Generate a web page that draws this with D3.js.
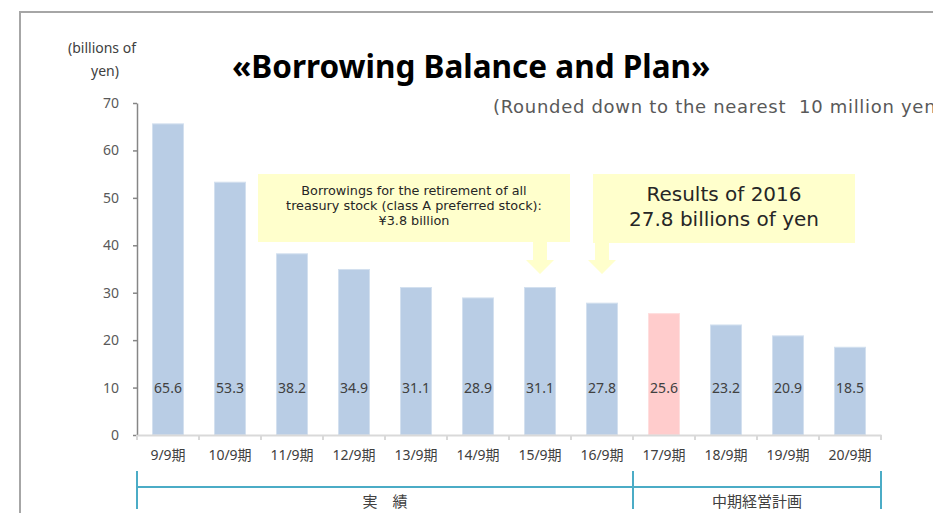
<!DOCTYPE html>
<html>
<head>
<meta charset="utf-8">
<script src="https://cdn.jsdelivr.net/npm/d3@7"></script>
<style>
  body { margin: 0; background: #fff; }
  svg { display: block; font-family: "Noto Sans", "Noto Sans CJK JP", sans-serif; }
</style>
</head>
<body>
<svg id="chart" width="933" height="513"></svg>
<script>
// Borrowing balance by fiscal period (billions of yen)
var periods = ["9/9期", "10/9期", "11/9期", "12/9期", "13/9期", "14/9期",
               "15/9期", "16/9期", "17/9期", "18/9期", "19/9期", "20/9期"];
var balances = [65.6, 53.3, 38.2, 34.9, 31.1, 28.9, 31.1, 27.8, 25.6, 23.2, 20.9, 18.5];
var highlighted = ["17/9期"];
var yTicks = [0, 10, 20, 30, 40, 50, 60, 70];

// bracket groups under the axis
var groupNames = ["実　績", "中期経営計画"];
var groupFirst = ["9/9期", "17/9期"];
var groupLast = ["16/9期", "20/9期"];

var svg = d3.select("#chart");

var chart = { left: 137, right: 881, top: 103, bottom: 435 };

var x = d3.scaleBand()
    .domain(periods)
    .range([chart.left, chart.right])
    .paddingInner(0.5)
    .paddingOuter(0.25);

var y = d3.scaleLinear()
    .domain([0, 70])
    .range([chart.bottom, chart.top]);

// outer frame (runs off the right and bottom of the picture)
svg.append("rect")
   .attr("x", 20).attr("y", 12)
   .attr("width", 940).attr("height", 540)
   .attr("fill", "none")
   .attr("stroke", "#a6a6a6")
   .attr("stroke-width", 2);

// title and notes
svg.append("text")
   .attr("x", 232).attr("y", 78)
   .attr("font-size", 31.5)
   .attr("font-weight", "bold")
   .attr("fill", "#000")
   .text("«Borrowing Balance and Plan»");

svg.append("text")
   .attr("x", 493).attr("y", 113)
   .attr("font-family", "DejaVu Sans")
   .attr("font-size", 18)
   .attr("letter-spacing", 0.7)
   .attr("fill", "#595959")
   .attr("xml:space", "preserve")
   .text("(Rounded down to the nearest  10 million yen)");

var unit = svg.append("text")
   .attr("text-anchor", "middle")
   .attr("font-size", 14)
   .attr("fill", "#404040");
unit.append("tspan").attr("x", 102).attr("y", 53).text("(billions of");
unit.append("tspan").attr("x", 105).attr("y", 76).text("yen)");

// bars
svg.append("g").selectAll("rect")
   .data(periods)
   .join("rect")
   .attr("x", function (d) { return x(d); })
   .attr("y", function (d, i) { return y(balances[i]); })
   .attr("width", x.bandwidth())
   .attr("height", function (d, i) { return y(0) - y(balances[i]); })
   .attr("fill", function (d) { return highlighted.indexOf(d) >= 0 ? "#ffcccc" : "#b9cde5"; })
   .attr("stroke", function (d) { return highlighted.indexOf(d) >= 0 ? "#ffdede" : "#d3e0ef"; })
   .attr("stroke-width", 1);

// value labels sit around the 10 line
svg.append("g").selectAll("text")
   .data(periods)
   .join("text")
   .attr("x", function (d) { return x(d) + x.bandwidth() / 2; })
   .attr("y", y(10) + 5)
   .attr("text-anchor", "middle")
   .attr("font-size", 14)
   .attr("fill", "#404040")
   .text(function (d, i) { return d3.format(".1f")(balances[i]); });

// y axis
var yAxis = svg.append("g")
   .attr("transform", "translate(" + chart.left + ",0)")
   .call(d3.axisLeft(y).tickValues(yTicks).tickSize(4).tickSizeOuter(0).tickPadding(14));
yAxis.select(".domain").attr("stroke", "#868686").attr("stroke-width", 1.5);
yAxis.selectAll(".tick line").attr("stroke", "#868686").attr("stroke-width", 1.5);
yAxis.selectAll(".tick text")
   .attr("font-family", "Noto Sans")
   .attr("font-size", 14)
   .attr("fill", "#595959");

// x axis: line, boundary ticks, labels
var step = x.step();
var bounds = d3.range(periods.length + 1).map(function (i) { return chart.left + i * step; });

var xAxis = svg.append("g")
   .attr("transform", "translate(0," + chart.bottom + ")")
   .call(d3.axisBottom(x).tickSize(0).tickPadding(15).tickSizeOuter(0));
xAxis.select(".domain").attr("stroke", "#d9d9d9").attr("stroke-width", 2);
xAxis.selectAll(".tick text")
   .attr("font-family", "Noto Sans, Noto Sans CJK JP")
   .attr("font-size", 14)
   .attr("fill", "#404040");

svg.append("g").selectAll("line")
   .data(bounds)
   .join("line")
   .attr("x1", function (d) { return d; })
   .attr("x2", function (d) { return d; })
   .attr("y1", chart.bottom)
   .attr("y2", chart.bottom + 5)
   .attr("stroke", "#d9d9d9")
   .attr("stroke-width", 2);

// period group brackets
var bracket = svg.append("g").attr("stroke", "#4bacc6").attr("stroke-width", 2);
var groupStart = groupFirst.map(function (d) { return x(d) - step * x.paddingInner() / 2; });
var groupEnd = groupLast.map(function (d) { return x(d) + x.bandwidth() + step * x.paddingInner() / 2; });

bracket.append("line")
   .attr("x1", groupStart[0]).attr("x2", groupEnd[groupEnd.length - 1])
   .attr("y1", 487).attr("y2", 487);

bracket.selectAll(".edge")
   .data(d3.merge([groupStart, [groupEnd[groupEnd.length - 1]]]))
   .join("line")
   .attr("class", "edge")
   .attr("x1", function (d) { return d; })
   .attr("x2", function (d) { return d; })
   .attr("y1", 471).attr("y2", 509);

svg.append("g").selectAll("text")
   .data(groupNames)
   .join("text")
   .attr("x", function (d, i) { return (groupStart[i] + groupEnd[i]) / 2; })
   .attr("y", 507)
   .attr("text-anchor", "middle")
   .attr("font-family", "Noto Sans CJK JP")
   .attr("font-size", 15)
   .attr("fill", "#404040")
   .text(function (d) { return d; });

// callouts with arrows down to the bars they describe
var callouts = [
  { box: [258, 174, 312, 68], target: "15/9期", size: 12.8, lines: ["Borrowings for the retirement of all", "treasury stock (class A preferred stock):", "¥3.8 billion"], first: 195, gap: 15 },
  { box: [593, 174, 262, 69], target: "16/9期", size: 20, lines: ["Results of 2016", "27.8 billions of yen"], first: 201, gap: 25 }
];

var yellow = "#ffffcc";
callouts.forEach(function (c) {
  var g = svg.append("g");
  g.append("rect")
   .attr("x", c.box[0]).attr("y", c.box[1])
   .attr("width", c.box[2]).attr("height", c.box[3])
   .attr("fill", yellow);

  var cx = x(c.target) + x.bandwidth() / 2;
  var top = c.box[1] + c.box[3];
  var arrow = d3.path();
  arrow.moveTo(cx - 7, top);
  arrow.lineTo(cx + 7, top);
  arrow.lineTo(cx + 7, 260);
  arrow.lineTo(cx + 14, 260);
  arrow.lineTo(cx, 274);
  arrow.lineTo(cx - 14, 260);
  arrow.lineTo(cx - 7, 260);
  arrow.closePath();
  g.append("path").attr("d", arrow.toString()).attr("fill", yellow);

  var t = g.append("text")
   .attr("text-anchor", "middle")
   .attr("font-family", "DejaVu Sans")
   .attr("font-size", c.size)
   .attr("fill", "#262626");
  c.lines.forEach(function (line, i) {
    t.append("tspan")
     .attr("x", c.box[0] + c.box[2] / 2)
     .attr("y", c.first + i * c.gap)
     .text(line);
  });
});
</script>
</body>
</html>
